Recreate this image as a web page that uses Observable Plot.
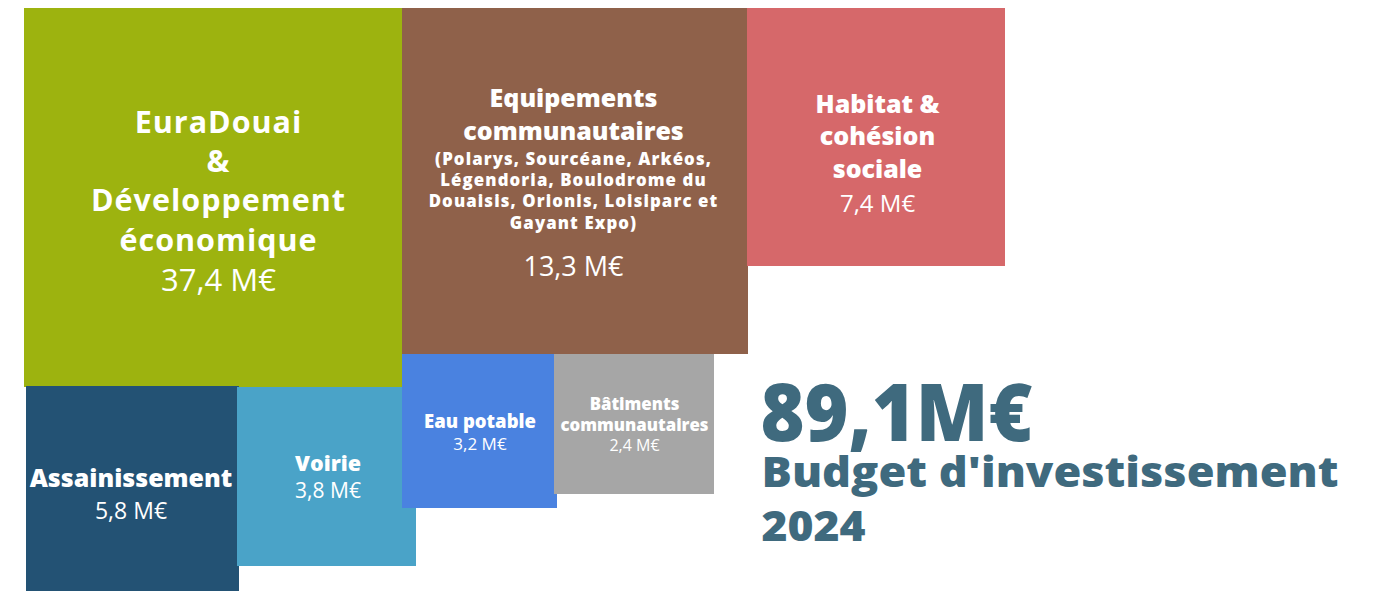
<!DOCTYPE html>
<html>
<head>
<meta charset="utf-8">
<script src="https://cdn.jsdelivr.net/npm/d3@7"></script>
<script src="https://cdn.jsdelivr.net/npm/@observablehq/plot@0.6"></script>
<style>
  html, body { margin: 0; padding: 0; background: #fff; }
  #chart svg { display: block; font-family: "Open Sans", sans-serif; }
</style>
</head>
<body>
<div id="chart"></div>
<script>
// ---- data ----
const categories = [
  "EuraDouai\n&\nDéveloppement\néconomique",
  "Equipements\ncommunautaires",
  "Habitat &\ncohésion\nsociale",
  "Assainissement",
  "Voirie",
  "Eau potable",
  "Bâtiments\ncommunautaires"
];
const details = [null, "(Polarys, Sourcéane, Arkéos,\nLégendoria, Boulodrome du\nDouaisis, Orionis, Loisiparc et\nGayant Expo)", null, null, null, null, null];
const values = [37.4, 13.3, 7.4, 5.8, 3.8, 3.2, 2.4];
const totalValue = 89.1;
const totalTitle = "Budget d'investissement";
const totalYear = "2024";

// ---- styles / layout (separate from data) ----
const colors = ["#9db30f", "#8f614a", "#d6686a", "#235274", "#4aa3c8", "#4a82e0", "#a6a6a6"];
// box extents in layout units [x0, y0, x1, y1]
const boxes = [
  [24, 8, 402, 387],
  [402, 8, 748, 354],
  [747, 8, 1005, 266],
  [26, 386, 239, 591],
  [237, 387, 416, 566],
  [402, 354, 557, 508],
  [554, 354, 714, 494]
];
// text styling per box: [labelSize, labelWeight, labelLineHeight, labelBaseline, valueSize, valueBaseline, xShift, letterSpacing]
const textStyle = [
  [30.5, 700, 1.28, 250, 31, 290, 5, 1],
  [25, 800, 1.3, 139, 27, 275, -2, 0],
  [25, 800, 1.3, 177, 24, 211, 1, 0],
  [25, 800, 1.2, 486, 23, 518, -2, 0],
  [21.5, 800, 1.2, 470, 21, 497, 1, 0],
  [18.5, 800, 1.2, 427, 17, 449, 0, 0],
  [16.8, 800, 1.23, 430, 16, 450, 0, 0]
];
const detailStyle = [16.8, 800, 1.26, 228, 1.1];

const fmt = v => v.toFixed(1).replace(".", ",") + " M€";

const rows = categories.map((c, i) => ({
  cat: c, value: values[i], color: colors[i],
  x0: boxes[i][0], y0: boxes[i][1], x1: boxes[i][2], y1: boxes[i][3],
  cx: (boxes[i][0] + boxes[i][2]) / 2 + textStyle[i][6]
}));

const marks = [
  Plot.rect(rows, {x1: "x0", x2: "x1", y1: "y0", y2: "y1", fill: "color"})
];

rows.forEach((r, i) => {
  const [ls, lw, lh, lb, vs, vb] = textStyle[i];
  marks.push(Plot.text([r], {x: "cx", y: () => lb, text: "cat", fill: "white",
    fontSize: ls, fontWeight: lw, lineHeight: lh, lineAnchor: "bottom", textAnchor: "middle"}));
  if (details[i]) {
    marks.push(Plot.text([r], {x: "cx", y: () => detailStyle[3], text: () => details[i], fill: "white",
      fontSize: detailStyle[0], fontWeight: detailStyle[1], lineHeight: detailStyle[2], lineAnchor: "bottom", textAnchor: "middle"}));
  }
  marks.push(Plot.text([r], {x: "cx", y: () => vb, text: d => fmt(d.value), fill: "white",
    fontSize: vs, fontWeight: 400, lineAnchor: "bottom", textAnchor: "middle"}));
});

// headline total
const ink = "#3f6a7e";
marks.push(Plot.text([totalValue], {x: () => 760, y: () => 440, text: d => d.toFixed(1).replace(".", ",") + "M€",
  fill: ink, fontSize: 80, fontWeight: 800, lineAnchor: "bottom", textAnchor: "start"}));
marks.push(Plot.text([totalTitle], {x: () => 761, y: () => 486, text: d => d,
  fill: ink, fontSize: 42, fontWeight: 800, lineAnchor: "bottom", textAnchor: "start"}));
marks.push(Plot.text([totalYear], {x: () => 761, y: () => 540, text: d => d,
  fill: ink, fontSize: 42, fontWeight: 800, lineAnchor: "bottom", textAnchor: "start"}));

const chart = Plot.plot({
  width: 1373,
  height: 591,
  margin: 0,
  x: {domain: [0, 1373], range: [0, 1373], axis: null},
  y: {domain: [0, 591], range: [0, 591], axis: null},
  style: {fontFamily: "'Open Sans', sans-serif", background: "white"},
  marks
});
document.getElementById("chart").appendChild(chart);

// match the compact widths of the headline block and the wide label texts
const fit = {"89,1M€": 272, "Budget d'investissement": 577, "2024": 104};
d3.select(chart).selectAll("text").each(function() {
  const t = this.textContent;
  if (fit[t]) d3.select(this).attr("textLength", fit[t]).attr("lengthAdjust", "spacingAndGlyphs");
  if (t.startsWith("(Polarys")) d3.select(this).style("letter-spacing", detailStyle[4] + "px");
  if (t.startsWith("EuraDouai")) d3.select(this).style("letter-spacing", textStyle[0][7] + "px");
});
</script>
</body>
</html>
